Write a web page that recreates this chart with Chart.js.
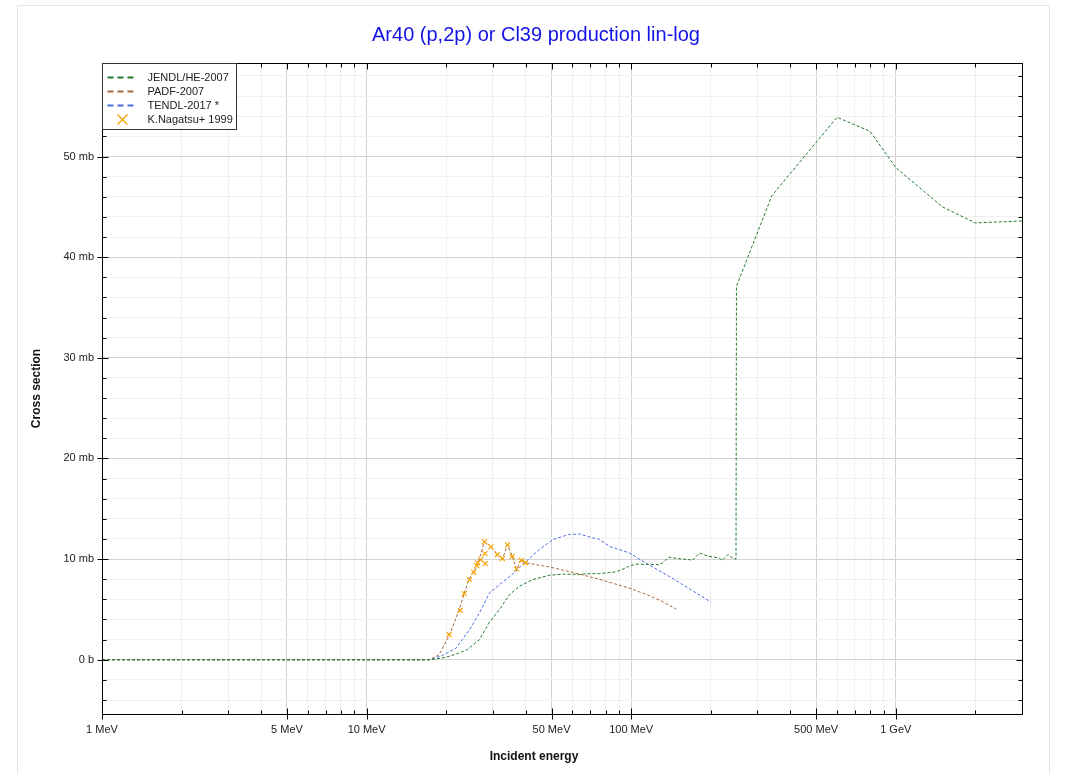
<!DOCTYPE html>
<html>
<head>
<meta charset="utf-8">
<script src="https://cdn.jsdelivr.net/npm/chart.js@4.4.0/dist/chart.umd.min.js"></script>
<style>
  html, body { margin: 0; padding: 0; background: #fff; }
  #frame { position: absolute; left: 17px; top: 5px; width: 1031px; height: 780px; border: 1px solid #e6e6e6; }
  #chart { position: absolute; left: 0; top: 0; }
</style>
</head>
<body>
<div id="frame"></div>
<canvas id="chart" width="1071" height="774"></canvas>
<script>
// JENDL/HE-2007 (energies in MeV, cross sections in mb)
const jendlE = [1, 17, 18, 20, 22, 24, 26.7, 29, 32, 34.7, 37.8, 42.4, 49, 55, 60, 64, 68, 76, 85, 88, 95, 98, 104, 127, 131, 139, 150, 166, 170, 181, 197, 215, 221, 232, 241, 249, 250, 340, 500, 600, 800, 1000, 1500, 2000, 3000];
const jendlV = [0, 0, 0.05, 0.25, 0.6, 1.0, 1.99, 3.65, 5.1, 6.47, 7.3, 7.96, 8.39, 8.5, 8.5, 8.46, 8.55, 8.56, 8.69, 8.75, 9.1, 9.28, 9.5, 9.45, 9.6, 10.2, 10.05, 9.95, 9.85, 10.6, 10.27, 10.12, 9.88, 10.45, 10.12, 10.0, 37.1, 46.1, 51.4, 53.9, 52.5, 48.9, 45.0, 43.4, 43.6];

// PADF-2007
const padfE = [1, 17.3, 18.8, 20.6, 22.4, 23.4, 24.5, 26.3, 27.9, 29.5, 31.2, 32.6, 34.1, 35.5, 36.9, 38.4, 40.1, 49, 60, 75, 98, 113, 131, 148];
const padfV = [0, 0, 0.5, 2.49, 4.98, 6.63, 8.1, 9.45, 11.77, 11.27, 10.45, 10.0, 11.44, 10.28, 9.0, 9.95, 9.62, 9.22, 8.69, 8.03, 7.13, 6.53, 5.8, 5.04];

// TENDL-2017
const tendlE = [1, 17.3, 19.4, 21.8, 24.5, 26.7, 29.1, 31.8, 35.5, 38.9, 45, 50.6, 58, 63.7, 71.5, 75.3, 82.8, 98.4, 113.5, 139, 166.5, 200];
const tendlV = [0, 0, 0.43, 1.16, 2.99, 4.64, 6.63, 7.46, 8.46, 9.45, 10.95, 11.94, 12.44, 12.5, 12.11, 12.0, 11.27, 10.61, 9.62, 8.29, 7.03, 5.74];

// K.Nagatsu+ 1999 (measured)
const expE = [20.5, 22.6, 23.4, 24.5, 25.4, 26.1, 26.3, 27.0, 27.9, 28.0, 28.1, 29.5, 31.2, 32.6, 34.1, 35.5, 36.9, 38.4, 39.9];
const expV = [2.49, 4.9, 6.57, 7.96, 8.69, 9.35, 9.62, 9.95, 11.71, 10.55, 9.55, 11.21, 10.45, 10.05, 11.41, 10.28, 9.03, 9.88, 9.62];

// axis ticks
const xLabelVals = [1, 5, 10, 50, 100, 500, 1000];
const xLabelText = ['1 MeV', '5 MeV', '10 MeV', '50 MeV', '100 MeV', '500 MeV', '1 GeV'];
const xTickVals = [];
for (let k = 0; k < 4; k++) {
    for (let d = 1; d <= 9; d++) {
        const v = d * Math.pow(10, k);
        if (v <= 3000) xTickVals.push(v);
    }
}
const yTickVals = [];
for (let v = -4; v <= 58; v += 2) yTickVals.push(v);

const seriesNames = ['JENDL/HE-2007', 'PADF-2007', 'TENDL-2017 *', 'K.Nagatsu+ 1999'];
const seriesColors = ['#217a2c', '#a8683c', '#4a6fe3', '#f5a300'];

const pts = (xs, ys) => xs.map((e, i) => ({ x: e, y: ys[i] }));
const isMajorX = v => xLabelVals.includes(v);
const isMajorY = v => v % 10 === 0;

function lineSet(i, xs, ys) {
    return {
        label: seriesNames[i],
        data: pts(xs, ys),
        showLine: true,
        borderColor: seriesColors[i],
        borderWidth: 1,
        borderDash: [3, 2],
        pointRadius: 0,
        tension: 0,
        order: i + 1
    };
}

// frame, inner ticks, legend box and titles
const decor = {
    id: 'decor',
    afterDraw(chart) {
        const { ctx, chartArea: a, scales: { x, y } } = chart;
        ctx.save();
        ctx.strokeStyle = '#000';
        ctx.lineWidth = 1;
        ctx.setLineDash([]);
        const L = Math.round(a.left) + 0.5, R = Math.round(a.right) + 0.5;
        const T = Math.round(a.top) + 0.5, B = Math.round(a.bottom) + 0.5;
        ctx.strokeRect(L, T, R - L, B - T);

        ctx.beginPath();
        xTickVals.forEach(v => {
            const px = Math.round(x.getPixelForValue(v)) + 0.5;
            const maj = isMajorX(v);
            ctx.moveTo(px, B + (maj ? 5 : 0)); ctx.lineTo(px, B - (maj ? 6 : 4));
            ctx.moveTo(px, T); ctx.lineTo(px, T + (maj ? 6 : 4));
        });
        yTickVals.forEach(v => {
            const py = Math.round(y.getPixelForValue(v)) + 0.5;
            const maj = isMajorY(v);
            ctx.moveTo(L - (maj ? 5 : 0), py); ctx.lineTo(L + (maj ? 6 : 4), py);
            ctx.moveTo(R, py); ctx.lineTo(R - (maj ? 6 : 4), py);
        });
        ctx.stroke();

        // legend
        const lx = L, ly = T, lw = 134, lh = 66;
        ctx.fillStyle = '#fff';
        ctx.fillRect(lx, ly, lw, lh);
        ctx.strokeStyle = '#333';
        ctx.strokeRect(lx, ly, lw, lh);
        ctx.font = '11px "Liberation Sans", Arial, sans-serif';
        ctx.textBaseline = 'middle';
        ctx.textAlign = 'left';
        seriesNames.forEach((name, i) => {
            const ry = Math.round(ly + 13 + i * 14.3) + 0.5;
            ctx.strokeStyle = seriesColors[i];
            if (i < 3) {
                ctx.lineWidth = 2;
                ctx.setLineDash([6, 4]);
                ctx.beginPath();
                ctx.moveTo(lx + 5, ry); ctx.lineTo(lx + 33, ry);
                ctx.stroke();
            } else {
                ctx.lineWidth = 1.3;
                ctx.setLineDash([]);
                ctx.beginPath();
                ctx.moveTo(lx + 15, ry - 5); ctx.lineTo(lx + 25, ry + 5);
                ctx.moveTo(lx + 25, ry - 5); ctx.lineTo(lx + 15, ry + 5);
                ctx.stroke();
            }
            ctx.fillStyle = '#222';
            ctx.fillText(name, lx + 45, ry);
        });

        // titles
        ctx.textAlign = 'center';
        ctx.fillStyle = '#1414e6';
        ctx.font = '20px "Liberation Sans", Arial, sans-serif';
        ctx.fillText('Ar40 (p,2p) or Cl39 production lin-log', 536, 35);
        ctx.fillStyle = '#111';
        ctx.font = 'bold 12px "Liberation Sans", Arial, sans-serif';
        ctx.fillText('Incident energy', 534, 757);
        ctx.translate(37, (a.top + a.bottom) / 2);
        ctx.rotate(-Math.PI / 2);
        ctx.fillText('Cross section', 0, 0);
        ctx.restore();
    }
};

const ctx = document.getElementById('chart').getContext('2d');
const chart = new Chart(ctx, {
    type: 'scatter',
    data: {
        datasets: [
            lineSet(0, jendlE, jendlV),
            lineSet(1, padfE, padfV),
            lineSet(2, tendlE, tendlV),
            {
                label: seriesNames[3],
                data: pts(expE, expV),
                showLine: false,
                pointStyle: 'crossRot',
                pointRadius: 3.5,
                borderColor: seriesColors[3],
                borderWidth: 1.2,
                order: 0
            }
        ]
    },
    options: {
        responsive: false,
        animation: false,
        devicePixelRatio: 1,
        layout: { padding: { left: 0, top: 63, right: 49, bottom: 0 } },
        plugins: {
            legend: { display: false },
            title: { display: false },
            tooltip: { enabled: false }
        },
        scales: {
            x: {
                type: 'logarithmic',
                min: 1,
                max: 3000,
                afterFit: s => { s.height = 60; },
                afterBuildTicks: s => { s.ticks = xTickVals.map(v => ({ value: v })); },
                border: { display: false },
                grid: {
                    drawTicks: false,
                    color: c => (c.tick && isMajorX(c.tick.value)) ? '#d2d2d2' : '#efefef'
                },
                ticks: {
                    autoSkip: false,
                    maxRotation: 0,
                    padding: 9,
                    color: '#222',
                    font: { family: '"Liberation Sans", Arial, sans-serif', size: 11 },
                    callback: v => {
                        const i = xLabelVals.indexOf(v);
                        return i >= 0 ? xLabelText[i] : '';
                    }
                }
            },
            y: {
                type: 'linear',
                min: -5.39,
                max: 59.29,
                afterFit: s => { s.width = 102; },
                afterBuildTicks: s => { s.ticks = yTickVals.map(v => ({ value: v })); },
                border: { display: false },
                grid: {
                    drawTicks: false,
                    color: c => (c.tick && isMajorY(c.tick.value)) ? '#d2d2d2' : '#efefef'
                },
                ticks: {
                    autoSkip: false,
                    padding: 8,
                    color: '#222',
                    font: { family: '"Liberation Sans", Arial, sans-serif', size: 11 },
                    callback: v => isMajorY(v) ? (v === 0 ? '0 b' : v + ' mb') : ''
                }
            }
        }
    },
    plugins: [decor]
});
</script>
</body>
</html>
